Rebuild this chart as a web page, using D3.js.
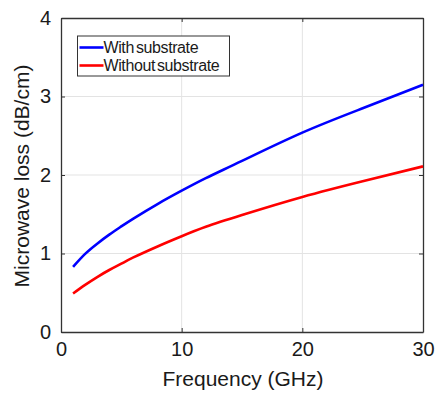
<!DOCTYPE html>
<html>
<head>
<meta charset="utf-8">
<script src="https://cdn.jsdelivr.net/npm/d3@7"></script>
<style>
  body { margin: 0; background: #fff; }
  text { font-family: Arial, "Liberation Sans", sans-serif; fill: #1a1a1a; }
</style>
</head>
<body>
<script>
// values
var freq = [1, 2, 3, 4, 5, 6, 8, 10, 12, 15, 20, 25, 30];
var withSub = [0.83, 0.995, 1.125, 1.24, 1.345, 1.445, 1.63, 1.80, 1.96, 2.18, 2.54, 2.85, 3.15];
var withoutSub = [0.49, 0.60, 0.70, 0.79, 0.87, 0.95, 1.09, 1.22, 1.34, 1.49, 1.72, 1.92, 2.11];
var xTicks = [0, 10, 20, 30];
var yTicks = [0, 1, 2, 3, 4];
var seriesNames = ["With substrate", "Without substrate"];
var seriesColors = ["#0000ff", "#ff0000"];

var width = 436, height = 394;
var margin = {left: 61, right: 13, top: 18, bottom: 62};

var svg = d3.select("body").append("svg")
  .attr("width", width)
  .attr("height", height);

var x = d3.scaleLinear().domain([0, 30]).range([margin.left, width - margin.right]);
var y = d3.scaleLinear().domain([0, 4]).range([height - margin.bottom, margin.top]);

// grid
svg.append("g").selectAll("line").data(xTicks.slice(1, -1)).enter().append("line")
  .attr("x1", d => x(d)).attr("x2", d => x(d))
  .attr("y1", y(0)).attr("y2", y(4))
  .attr("stroke", "#e3e3e3").attr("stroke-width", 1);
svg.append("g").selectAll("line").data(yTicks.slice(1, -1)).enter().append("line")
  .attr("y1", d => y(d)).attr("y2", d => y(d))
  .attr("x1", x(0)).attr("x2", x(30))
  .attr("stroke", "#e3e3e3").attr("stroke-width", 1);

// axes, ticks pointing inward, box on all sides
var axisStyle = function(g) {
  g.select(".domain").attr("stroke", "#333").attr("stroke-width", 1.3);
  g.selectAll(".tick line").attr("stroke", "#333");
  g.selectAll("text").style("font-size", "20px").attr("fill", "#1a1a1a");
};

svg.append("g")
  .attr("transform", "translate(0," + y(0) + ")")
  .call(d3.axisBottom(x).tickValues(xTicks).tickSizeInner(-4).tickSizeOuter(0).tickPadding(10))
  .call(axisStyle);
svg.append("g")
  .attr("transform", "translate(0," + y(4) + ")")
  .call(d3.axisTop(x).tickValues(xTicks).tickSizeInner(-4).tickSizeOuter(0).tickFormat(""))
  .call(axisStyle);
svg.append("g")
  .attr("transform", "translate(" + x(0) + ",0)")
  .call(d3.axisLeft(y).tickValues(yTicks).tickFormat(d3.format("d")).tickSizeInner(-4).tickSizeOuter(0).tickPadding(10))
  .call(axisStyle);
svg.append("g")
  .attr("transform", "translate(" + x(30) + ",0)")
  .call(d3.axisRight(y).tickValues(yTicks).tickSizeInner(-4).tickSizeOuter(0).tickFormat(""))
  .call(axisStyle);

// curves
var line = d3.line()
  .x(d => x(d[0]))
  .y(d => y(d[1]))
  .curve(d3.curveNatural);

[withSub, withoutSub].forEach(function(vals, i) {
  svg.append("path")
    .datum(freq.map((f, j) => [f, vals[j]]))
    .attr("d", line)
    .attr("fill", "none")
    .attr("stroke", seriesColors[i])
    .attr("stroke-width", 2.6);
});

// legend
var legend = svg.append("g").attr("transform", "translate(77.5,36)");
legend.append("rect")
  .attr("width", 152).attr("height", 40)
  .attr("fill", "#fff").attr("stroke", "#333").attr("stroke-width", 1);
seriesNames.forEach(function(name, i) {
  var yy = 11.5 + i * 18;
  legend.append("line")
    .attr("x1", 2).attr("x2", 26).attr("y1", yy).attr("y2", yy)
    .attr("stroke", seriesColors[i]).attr("stroke-width", 2.6);
  legend.append("text")
    .attr("x", 26).attr("y", yy).attr("dy", "0.36em")
    .style("font-size", "16px").style("letter-spacing", "-0.4px").style("word-spacing", "-2px")
    .text(name);
});

// axis titles
svg.append("text")
  .attr("x", (x(0) + x(30)) / 2 + 1).attr("y", 386)
  .attr("text-anchor", "middle")
  .style("font-size", "21px")
  .text("Frequency (GHz)");
svg.append("text")
  .attr("transform", "translate(29," + (y(2) + 1) + ") rotate(-90)")
  .attr("text-anchor", "middle")
  .style("font-size", "21px")
  .text("Microwave loss (dB/cm)");
</script>
</body>
</html>
